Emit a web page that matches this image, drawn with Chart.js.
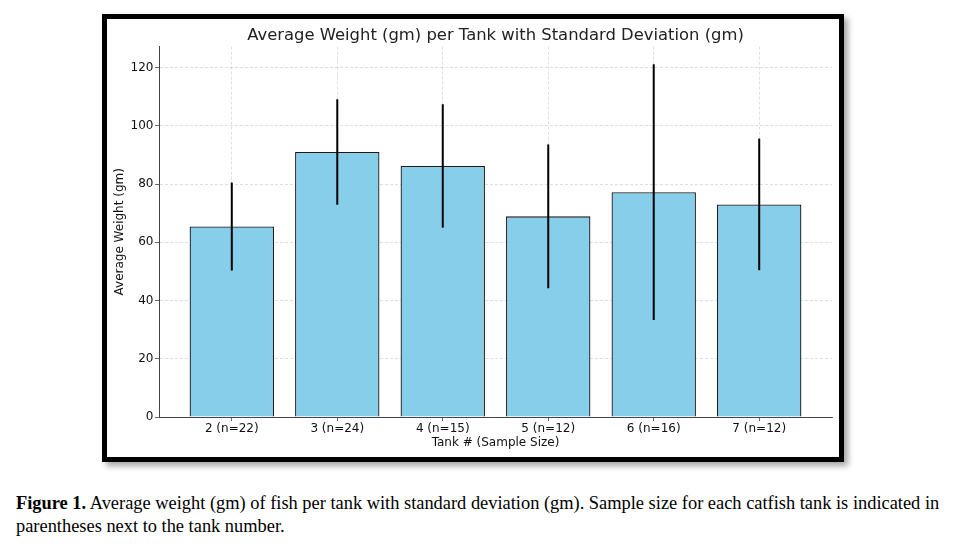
<!DOCTYPE html>
<html>
<head>
<meta charset="utf-8">
<script src="https://cdn.jsdelivr.net/npm/chart.js@4.4.1/dist/chart.umd.min.js"></script>
<style>
  body { margin: 0; background: #fff; width: 955px; height: 548px; position: relative; overflow: hidden; }
  #frame {
    position: absolute; left: 102px; top: 14px;
    width: 732px; height: 438px;
    border: 5px solid #000;
    box-shadow: 4px 4px 6px rgba(0, 0, 0, 0.35);
    background: #fff;
  }
  #frame canvas { display: block; }
  #caption {
    position: absolute; left: 16px; top: 492px;
    font-family: "Liberation Serif", "Times New Roman", serif;
    font-size: 18.4px; line-height: 23px; color: #000;
    white-space: nowrap;
  }
</style>
</head>
<body>
<div id="frame"><canvas id="weightChart" width="732" height="438"></canvas></div>
<div id="caption"><b>Figure 1.</b> Average weight (gm) of fish per tank with standard deviation (gm). Sample size for each catfish tank is indicated in<br>parentheses next to the tank number.</div>
<script>
// values
var tankLabels = ['2 (n=22)', '3 (n=24)', '4 (n=15)', '5 (n=12)', '6 (n=16)', '7 (n=12)'];
var meanWeight = [65.4, 91.0, 86.2, 68.9, 77.2, 73.0];
var stdDev = [15.1, 18.1, 21.2, 24.7, 43.9, 22.6];
var yTicks = [0, 20, 40, 60, 80, 100, 120];

var FONT = 'DejaVu Sans';

var points = meanWeight.map(function(v, i) { return { x: i, y: v }; });

// vertical error lines, no caps
var errorBars = {
    id: 'errorBars',
    afterDatasetsDraw: function(chart) {
        var ctx = chart.ctx;
        var xs = chart.scales.x, ys = chart.scales.y;
        ctx.save();
        ctx.strokeStyle = '#000';
        ctx.lineWidth = 2;
        meanWeight.forEach(function(m, i) {
            var px = xs.getPixelForValue(i);
            ctx.beginPath();
            ctx.moveTo(px, ys.getPixelForValue(m - stdDev[i]));
            ctx.lineTo(px, ys.getPixelForValue(m + stdDev[i]));
            ctx.stroke();
        });
        ctx.restore();
    }
};

var gridColor = 'rgba(0,0,0,0.16)';

new Chart(document.getElementById('weightChart').getContext('2d'), {
    type: 'bar',
    data: {
        datasets: [{
            data: points,
            backgroundColor: '#87CEEB',
            borderColor: '#1a1a1a',
            borderWidth: 1.3,
            barPercentage: 0.8,
            categoryPercentage: 1.0
        }]
    },
    options: {
        responsive: false,
        animation: false,
        devicePixelRatio: 1,
        layout: { padding: { left: 2, right: 7, top: 0, bottom: 0 } },
        plugins: {
            legend: { display: false },
            tooltip: { enabled: false },
            title: {
                display: true,
                fullSize: false,
                text: 'Average Weight (gm) per Tank with Standard Deviation (gm)',
                color: '#222',
                font: { family: FONT, size: 16.4, weight: 'normal' },
                padding: { top: 7.3, bottom: 0.6 }
            }
        },
        scales: {
            x: {
                type: 'linear',
                min: -0.69,
                max: 5.69,
                offset: false,
                z: 1,
                afterBuildTicks: function(scale) {
                    scale.ticks = tankLabels.map(function(_, i) { return { value: i }; });
                },
                afterFit: function(scale) { scale.height = 40; },
                ticks: {
                    callback: function(v) { return tankLabels[v]; },
                    color: '#111',
                    font: { family: FONT, size: 12 },
                    padding: 0.5,
                    maxRotation: 0
                },
                grid: { offset: false, color: gridColor, lineWidth: 0.8, tickLength: 4, tickColor: '#444' },
                border: { color: '#444', width: 1, dash: [3, 2] },
                title: {
                    display: true,
                    text: 'Tank # (Sample Size)',
                    color: '#111',
                    font: { family: FONT, size: 12 },
                    padding: { top: 0, bottom: 6.8 }
                }
            },
            y: {
                min: 0,
                max: 127.2,
                z: 1,
                afterBuildTicks: function(scale) {
                    scale.ticks = yTicks.map(function(v) { return { value: v }; });
                },
                afterFit: function(scale) { scale.width = 50; },
                ticks: {
                    color: '#111',
                    font: { family: FONT, size: 12 },
                    padding: 1.5
                },
                grid: { color: gridColor, lineWidth: 0.8, tickLength: 4, tickColor: '#444' },
                border: { color: '#444', width: 1, dash: [3, 2] },
                title: {
                    display: true,
                    text: 'Average Weight (gm)',
                    color: '#111',
                    font: { family: FONT, size: 12 },
                    padding: { top: 3.8, bottom: 0 }
                }
            }
        }
    },
    plugins: [errorBars]
});
</script>
</body>
</html>
